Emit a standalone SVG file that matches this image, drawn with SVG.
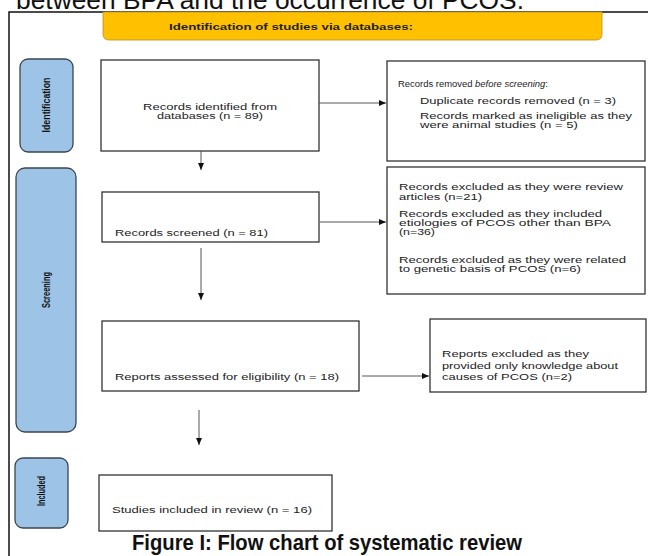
<svg xmlns="http://www.w3.org/2000/svg" width="648" height="556" viewBox="0 0 648 556">
<style>
.t{font-family:"Liberation Sans",Arial,sans-serif;font-size:9.2px;fill:#222}
.box{fill:#fff;stroke:#333;stroke-width:1.3}
.pill{fill:#9DC3E6;stroke:#3b4650;stroke-width:1.3}
.pl{font-family:"Liberation Sans",Arial,sans-serif;font-weight:bold;font-size:10px;fill:#111}
.c{stroke:#555;stroke-width:1;fill:none}
</style>
<defs>
<marker id="ah" markerWidth="8" markerHeight="8" refX="7" refY="4" orient="auto" markerUnits="userSpaceOnUse"><path d="M0,1 L7,4 L0,7 z" fill="#111"/></marker>
</defs>
<rect x="0" y="0" width="648" height="556" fill="#fff"/>
<text x="16" y="9" font-family="Liberation Sans, Arial, sans-serif" font-size="26" fill="#111" textLength="508" lengthAdjust="spacingAndGlyphs">between BPA and the occurrence of PCOS.</text>
<path d="M9,556 V12 H648" fill="none" stroke="#111" stroke-width="1.5"/>

<g id="banner">
<path d="M103,12 H602 V34 Q602,40 596,40 H109 Q103,40 103,34 Z" fill="#FFC000" stroke="#b8912a" stroke-width="0.8"/>
<text class="t" x="169" y="30" font-weight="bold" fill="#111" textLength="244" lengthAdjust="spacingAndGlyphs">Identification of studies via databases:</text>
</g>

<g id="stage-identification">
<rect class="pill" x="20" y="59" width="53" height="93" rx="8"/>
<text class="pl" transform="translate(50,105) rotate(-90)" text-anchor="middle" textLength="55" lengthAdjust="spacingAndGlyphs">Identification</text>
</g>
<g id="stage-screening">
<rect class="pill" x="16" y="168" width="60" height="264" rx="9"/>
<text class="pl" transform="translate(50,290) rotate(-90)" text-anchor="middle" textLength="36" lengthAdjust="spacingAndGlyphs">Screening</text>
</g>
<g id="stage-included">
<rect class="pill" x="15" y="458" width="53" height="70" rx="8"/>
<text class="pl" transform="translate(45,491) rotate(-90)" text-anchor="middle" textLength="30" lengthAdjust="spacingAndGlyphs">Included</text>
</g>

<g id="box-identified">
<rect class="box" x="101" y="60" width="218" height="91"/>
<text class="t" x="143" y="110" font-size="9.5" textLength="134" lengthAdjust="spacingAndGlyphs">Records identified from</text>
<text class="t" x="157" y="119" font-size="9.5" textLength="106" lengthAdjust="spacingAndGlyphs">databases (n = 89)</text>
</g>

<g id="box-removed">
<rect class="box" x="387" y="61" width="258" height="100"/>
<text class="t" x="398" y="87" font-size="8" textLength="150" lengthAdjust="spacingAndGlyphs">Records removed <tspan font-style="italic">before screening</tspan>:</text>
<text class="t" x="420" y="104" textLength="196" lengthAdjust="spacingAndGlyphs">Duplicate records removed (n = 3)</text>
<text class="t" x="420" y="119" textLength="212" lengthAdjust="spacingAndGlyphs">Records marked as ineligible as they</text>
<text class="t" x="420" y="128" textLength="158" lengthAdjust="spacingAndGlyphs">were animal studies (n = 5)</text>
</g>

<g id="box-screened">
<rect class="box" x="102" y="192" width="217" height="50"/>
<text class="t" x="115" y="236" textLength="153" lengthAdjust="spacingAndGlyphs">Records screened (n = 81)</text>
</g>

<g id="box-excluded">
<rect class="box" x="387" y="167" width="258" height="127"/>
<text class="t" x="399" y="190" textLength="224" lengthAdjust="spacingAndGlyphs">Records excluded as they were review</text>
<text class="t" x="399" y="200" textLength="83" lengthAdjust="spacingAndGlyphs">articles (n=21)</text>
<text class="t" x="399" y="217" textLength="203" lengthAdjust="spacingAndGlyphs">Records excluded as they included</text>
<text class="t" x="399" y="226" textLength="212" lengthAdjust="spacingAndGlyphs">etiologies of PCOS other than BPA</text>
<text class="t" x="399" y="235" textLength="36" lengthAdjust="spacingAndGlyphs">(n=36)</text>
<text class="t" x="399" y="263" textLength="227" lengthAdjust="spacingAndGlyphs">Records excluded as they were related</text>
<text class="t" x="399" y="272" textLength="182" lengthAdjust="spacingAndGlyphs">to genetic basis of PCOS (n=6)</text>
</g>

<g id="box-assessed">
<rect class="box" x="102" y="321" width="257" height="70"/>
<text class="t" x="115" y="380" textLength="224" lengthAdjust="spacingAndGlyphs">Reports assessed for eligibility (n = 18)</text>
</g>

<g id="box-reports-excluded">
<rect class="box" x="430" y="319" width="216" height="73"/>
<text class="t" x="442" y="357" textLength="147" lengthAdjust="spacingAndGlyphs">Reports excluded as they</text>
<text class="t" x="442" y="369" textLength="176" lengthAdjust="spacingAndGlyphs">provided only knowledge about</text>
<text class="t" x="442" y="380" textLength="130" lengthAdjust="spacingAndGlyphs">causes of PCOS (n=2)</text>
</g>

<g id="box-included">
<rect class="box" x="99" y="475" width="233" height="56"/>
<text class="t" x="112" y="513" font-size="8.8" textLength="200" lengthAdjust="spacingAndGlyphs">Studies included in review (n = 16)</text>
</g>

<g id="connectors">
<path class="c" d="M319,103 H386" marker-end="url(#ah)"/>
<path class="c" d="M201,151 V170" marker-end="url(#ah)"/>
<path class="c" d="M320,222 H386" marker-end="url(#ah)"/>
<path class="c" d="M201,248 V300" marker-end="url(#ah)"/>
<path class="c" d="M362,376 H429" marker-end="url(#ah)"/>
<path class="c" d="M199,410 V445" marker-end="url(#ah)"/>
</g>

<text x="132" y="550" font-family="Liberation Sans, Arial, sans-serif" font-weight="bold" font-size="22" fill="#111" textLength="390" lengthAdjust="spacingAndGlyphs">Figure I: Flow chart of systematic review</text>
</svg>
